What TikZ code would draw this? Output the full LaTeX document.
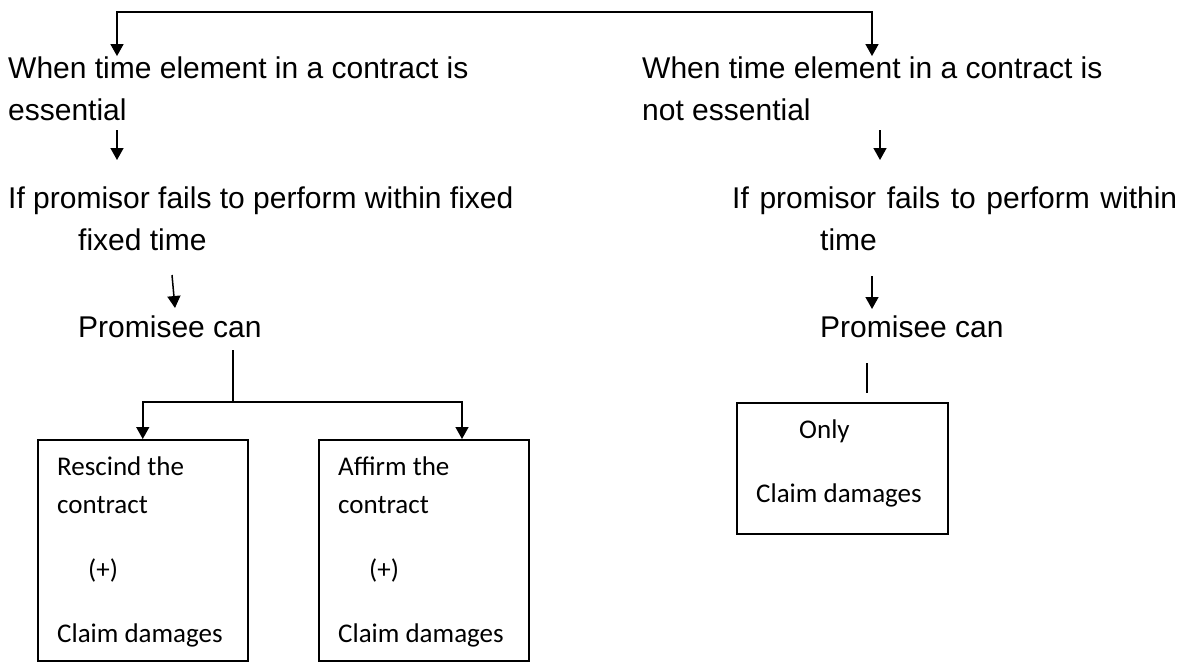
\documentclass[tikz,border=0pt]{standalone}
\usepackage{fontspec}
\setmainfont{Liberation Sans}
\newfontfamily\boxfont{Carlito}
\usetikzlibrary{arrows.meta,calc}
\begin{document}
\begin{tikzpicture}[x=1pt,y=-1pt,
  lbl/.style={anchor=base west, inner sep=0pt, font=\fontsize{30}{36}\selectfont},
  boxlbl/.style={anchor=base west, inner sep=0pt, font=\boxfont\fontsize{27}{32}\selectfont},
  frame/.style={draw, line width=1.5pt, inner sep=0pt, anchor=north west},
  conn/.style={line width=1.5pt},
  tip/.tip={Triangle[width=13pt,length=12pt]},
  arr/.style={conn, -tip}]
\useasboundingbox (0,0) rectangle (1185,661);

% headings of the two branches
\node[lbl] (l1a) at (8,78)   {When time element in a contract is};
\node[lbl] (l1b) at (8,120)  {essential};
\node[lbl] (r1a) at (642,78) {When time element in a contract is};
\node[lbl] (r1b) at (642,120){not essential};

% conditions
\node[lbl] (l2a) at (8,208)   {If promisor fails to perform within fixed};
\node[lbl] (l2b) at (78,250)  {fixed time};
\node[lbl] (r2a) at (732,208) {\makebox[445pt][s]{If promisor fails to perform within}};
\node[lbl] (r2b) at (820,250) {time};

% consequences
\node[lbl] (l3) at (78,337)  {Promisee can};
\node[lbl] (r3) at (820,337) {Promisee can};

% remedy boxes
\node[frame, minimum width=210pt, minimum height=221pt] (b1) at (37,439) {};
\node[frame, minimum width=210pt, minimum height=221pt] (b2) at (318,439) {};
\node[frame, minimum width=211pt, minimum height=131pt] (b3) at (736,402) {};

\node[boxlbl] (b1a) at (57,475)  {Rescind the};
\node[boxlbl] (b1b) at (57,513)  {contract};
\node[boxlbl] (b1c) at (88,578)  {(+)};
\node[boxlbl] (b1d) at (57,642)  {Claim damages};

\node[boxlbl] (b2a) at (338,475) {Affirm the};
\node[boxlbl] (b2b) at (338,513) {contract};
\node[boxlbl] (b2c) at (369,578) {(+)};
\node[boxlbl] (b2d) at (338,642) {Claim damages};

\node[boxlbl] (b3a) at (799,438) {Only};
\node[boxlbl] (b3b) at (756,502) {Claim damages};

% connector points
\coordinate (tl) at (117,12);
\coordinate (tr) at (872,12);
\coordinate (la1) at (117,130);
\coordinate (la2) at (117,160);
\coordinate (ra1) at (880,130);
\coordinate (ra2) at (880,160);
\coordinate (lb1) at (172,275);
\coordinate (lb2) at (175,308);
\coordinate (rb1) at (872,276);
\coordinate (rb2) at (872,309);
\coordinate (ls)  at (233,350);
\coordinate (jm)  at (233,402);
\coordinate (jr)  at (462,402);
\coordinate (rs)  at (867,363);
\coordinate (re)  at (867,393);

% connectors
\draw[conn, tip-tip] (tl |- l1a.north) -- (tl) -- (tr) -- (tr |- r1a.north);
\draw[arr] (la1) -- (la2);
\draw[arr] (ra1) -- (ra2);
\draw[arr] (lb1) -- (lb2);
\draw[arr] (rb1) -- (rb2);
\draw[conn] (ls) -- (jm);
\draw[arr] (jm) -| (b1.north);
\draw[arr] (jm) -- (jr) -- (jr |- b2.north);
\draw[conn] (rs) -- (re);
\end{tikzpicture}
\end{document}
